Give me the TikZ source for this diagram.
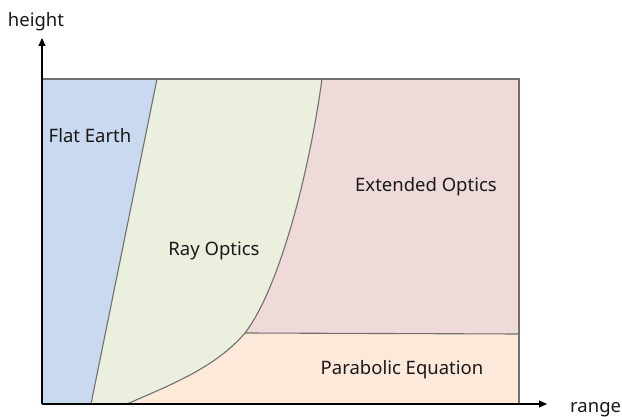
\documentclass[tikz,border=0pt]{standalone}
\usepackage{fontspec}
\setmainfont{Noto Sans}
\usetikzlibrary{arrows.meta}
\definecolor{cblue}{HTML}{C9D9EF}
\definecolor{cgreen}{HTML}{EBEFDE}
\definecolor{cpink}{HTML}{EFDADA}
\definecolor{cpeach}{HTML}{FDE9DA}
\definecolor{cedge}{HTML}{707070}
\tikzset{
  region/.style={draw=cedge, line width=1.1pt},
  lbl/.style={font=\fontsize{18.5}{20}\selectfont, text=black!90, inner sep=0pt},
  axis/.style={line width=1.2pt, -{Triangle[length=8pt,width=7pt]}}
}
\begin{document}
\begin{tikzpicture}[x=1pt,y=-1pt]
\useasboundingbox (0,0) rectangle (622,417);
\coordinate (O) at (42,404);
\coordinate (TL) at (42,79);
\coordinate (TR) at (519,79);
\coordinate (BR) at (519,404);
\coordinate (F1) at (157,79);
\coordinate (F2) at (91,404);
\coordinate (R1) at (322,79);
\coordinate (J) at (245,333);
\coordinate (JR) at (519,334);
\coordinate (R2) at (127,404);
% regions
\fill[cpeach] (R2) .. controls (170,385) and (215,368) .. (J) -- (JR) -- (BR) -- cycle;
\fill[cpink] (R1) -- (TR) -- (JR) -- (J) .. controls (278,290) and (308,180) .. (R1) -- cycle;
\fill[cgreen] (F1) -- (R1) .. controls (308,180) and (278,290) .. (J) .. controls (215,368) and (170,385) .. (R2) -- (F2) -- cycle;
\fill[cblue] (TL) -- (F1) -- (F2) -- (O) -- cycle;
% boundaries
\draw[region] (TL) -- (TR) -- (BR);
\draw[region] (F1) -- (F2);
\draw[region] (R1) .. controls (308,180) and (278,290) .. (J) .. controls (215,368) and (170,385) .. (R2);
\draw[region] (J) -- (JR);
% axes
\coordinate (YT) at (42,38);
\coordinate (XT) at (547,404);
\draw[axis] (O) -- (YT);
\draw[axis] (O) -- (XT);
\node[lbl, anchor=base] (hl) at (36,27) {height};
\node[lbl, anchor=base west] (rl) at (570,412) {range};
\node[lbl] (fe) at (90,136) {Flat Earth};
\node[lbl] (ro) at (214,251) {Ray Optics};
\node[lbl] (eo) at (426,187) {Extended Optics};
\node[lbl] (pe) at (402,370) {Parabolic Equation};
\end{tikzpicture}
\end{document}
